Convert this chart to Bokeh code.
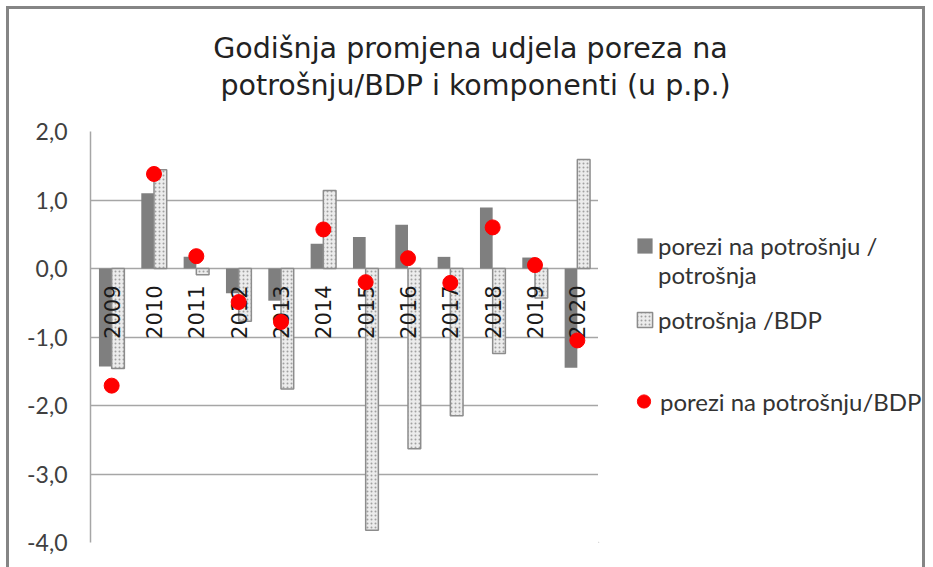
import math
from bokeh.plotting import figure
from bokeh.models import ColumnDataSource, Label, Legend, LegendItem, Range1d, FixedTicker
from bokeh.transform import dodge
from bokeh.layouts import column, row
from bokeh.core.properties import value
from bokeh.embed import file_html
from bokeh.resources import INLINE

# ---------------- data ----------------
years = ["2009", "2010", "2011", "2012", "2013", "2014",
         "2015", "2016", "2017", "2018", "2019", "2020"]
porezi_potrosnja = [-1.43, 1.10, 0.17, -0.36, -0.47, 0.36, 0.46, 0.64, 0.17, 0.89, 0.16, -1.45]
potrosnja_bdp = [-1.46, 1.44, -0.09, -0.77, -1.76, 1.14, -3.82, -2.63, -2.15, -1.24, -0.43, 1.59]
porezi_bdp = [-1.71, 1.38, 0.18, -0.49, -0.78, 0.57, -0.20, 0.15, -0.21, 0.60, 0.05, -1.05]

y_ticks = [-4, -3, -2, -1, 0, 1, 2]
y_tick_labels = ["-4,0", "-3,0", "-2,0", "-1,0", "0,0", "1,0", "2,0"]

caption = "Grafikon 2."
title_lines = ["Godišnja promjena udjela poreza na",
               "potrošnju/BDP i komponenti (u p.p.)"]
legend_labels = ["porezi na potrošnju /", "potrošnja",
                 "potrošnja /BDP",
                 "porezi na potrošnju/BDP"]

DARK = dict(fill_color="#7f7f7f", line_color=None)
LIGHT = dict(fill_color="#ececec", hatch_pattern="dot", hatch_color="#a0a0a0",
             hatch_scale=4, hatch_weight=1, line_color="#8c8c8c", line_width=1.5)
DOT = dict(fill_color="#ff0000", line_color="#ff0000")
NONE = dict(fill_color=None, line_color=None)

src = ColumnDataSource(dict(
    year=years, a=porezi_potrosnja, b=potrosnja_bdp, c=porezi_bdp,
    zero=[0] * len(years)))


def bare(fig):
    fig.outline_line_color = None
    fig.background_fill_color = "white"
    fig.border_fill_color = "white"
    fig.axis.visible = False
    fig.grid.visible = False


# ---------------- caption strip (cut off at the top, as in the source) ----------------
pc = figure(width=925, height=6, x_range=Range1d(0, 1), y_range=Range1d(0, 1),
            output_backend="svg", toolbar_location=None,
            min_border_left=0, min_border_right=0, min_border_top=0, min_border_bottom=0)
bare(pc)
pc.add_layout(Label(x=476, y=10, x_units="screen", y_units="screen", text=caption,
                    text_align="center", text_baseline="alphabetic",
                    text_font="Liberation Sans", text_font_size="29px", text_color="#111111"))

# ---------------- title figure ----------------
pt = figure(width=913, height=100, x_range=Range1d(0, 1), y_range=Range1d(0, 1),
            output_backend="svg", toolbar_location=None,
            min_border_left=0, min_border_right=0, min_border_top=0, min_border_bottom=0)
bare(pt)
for i, line in enumerate(title_lines):
    pt.add_layout(Label(x=461 + 5 * i, y=61 - 37 * i, x_units="screen", y_units="screen", text=line,
                        text_align="center", text_baseline="alphabetic",
                        text_font="DejaVu Sans", text_font_size="28.5px", text_color="#222222"))

# ---------------- main figure ----------------
p = figure(x_range=years, y_range=Range1d(y_ticks[0], y_ticks[-1]),
           width=589, height=458, output_backend="svg", toolbar_location=None,
           min_border_left=81, min_border_right=0, min_border_top=22, min_border_bottom=25)
p.outline_line_color = None
p.background_fill_color = "white"
p.border_fill_color = "white"

p.xaxis.visible = False
p.xgrid.visible = False
p.ygrid.ticker = FixedTicker(ticks=y_ticks)
p.ygrid.grid_line_color = "#a6a6a6"
p.ygrid.grid_line_width = 1.5

yax = p.yaxis[0]
yax.ticker = FixedTicker(ticks=y_ticks)
yax.major_label_overrides = {t: l for t, l in zip(y_ticks, y_tick_labels)}
yax.axis_line_color = "#a6a6a6"
yax.axis_line_width = 1.5
yax.major_tick_line_color = None
yax.minor_tick_line_color = None
yax.major_label_standoff = 17
yax.major_label_text_font = "Lato"
yax.major_label_text_font_size = "23px"
yax.major_label_text_color = "#404040"

p.vbar(x=dodge("year", -0.15, range=p.x_range), top="a", width=0.3, source=src, **DARK)
p.vbar(x=dodge("year", 0.15, range=p.x_range), top="b", width=0.3, source=src, **LIGHT)

p.text(x="year", y="zero", text="year", source=src, angle=math.pi / 2,
       text_align="right", text_baseline="middle", y_offset=17,
       text_font=value("DejaVu Sans"), text_font_size="21px", text_color="#1a1a1a")

p.scatter(x="year", y="c", source=src, size=15, **DOT)

# ---------------- legend figure ----------------
pl = figure(width=324, height=458, x_range=Range1d(0, 1), y_range=Range1d(0, 1),
            output_backend="svg", toolbar_location=None,
            min_border_left=0, min_border_right=0, min_border_top=22, min_border_bottom=25)
bare(pl)
# proxy renderers (outside the visible range) that only supply the legend swatches
proxy = ColumnDataSource(dict(x=[-10], top=[-10]))
r_dark = pl.vbar(x="x", top="top", width=0.1, source=proxy, **DARK)
r_none = pl.vbar(x="x", top="top", width=0.1, source=proxy, **NONE)
r_light = pl.vbar(x="x", top="top", width=0.1, source=proxy, **LIGHT)
r_dot = pl.scatter(x="x", y="top", size=15, source=proxy, **DOT)

specs = [  # renderer, location, glyph w, glyph h, standoff
    (r_dark, (37, 282), 19, 19, 4),
    (r_none, (37, 253), 19, 19, 4),
    (r_light, (37, 208), 19, 19, 4),
    (r_dot, (29, 123), 33, 36, 0),
]
for lab, (r, loc, gw, gh, so) in zip(legend_labels, specs):
    lg = Legend(items=[LegendItem(label=lab, renderers=[r])], location=loc,
                padding=0, margin=0, border_line_color=None, background_fill_alpha=0,
                glyph_width=gw, glyph_height=gh, label_standoff=so,
                label_text_font="Lato", label_text_font_size="24px",
                label_text_color="#333333")
    pl.add_layout(lg, "center")

framed = column(pt, row(p, pl),
                styles={"border": "3px solid #858585", "border-bottom": "none", "margin-left": "6px"})
layout = column(pc, framed)
open("out.html", "w").write(file_html(layout, INLINE))
